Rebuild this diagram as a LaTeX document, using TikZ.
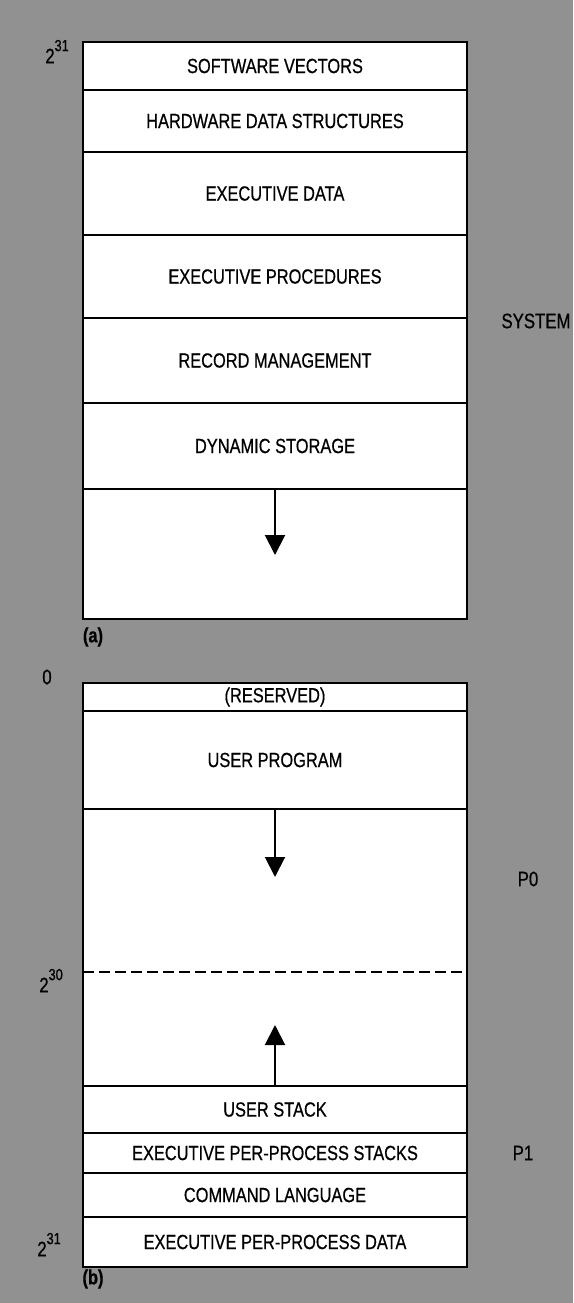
\documentclass[tikz,border=0pt]{standalone}
\usepackage{fontspec}
\setmainfont{Liberation Sans}[FakeStretch=0.8,FakeBold=0.6]
\usetikzlibrary{arrows.meta}
\definecolor{bg}{RGB}{145,145,145}
\begin{document}
\begin{tikzpicture}[x=1pt,y=-1pt,
  row/.style={draw=black,line width=1.9pt,fill=white,minimum width=384pt,
    inner sep=0pt,outer sep=0pt,font=\fontsize{20.5}{22}\selectfont},
  lbl/.style={font=\fontsize{21}{22}\selectfont,inner sep=0pt},
  sup/.style={font=\fontsize{16}{16}\selectfont,inner sep=0pt},
  frame/.style={draw=black,line width=2.8pt},
  arr/.style={line width=2pt,-{Triangle[width=20pt,length=20pt]}}]
\fill[bg] (0,0) rectangle (573,1303);
\useasboundingbox (0,0) rectangle (573,1303);
% ---------- (a) ----------
\node[row,minimum height=48pt] (sv) at (275,66) {SOFTWARE VECTORS};
\node[row,minimum height=62pt] (hw) at (275,121) {HARDWARE DATA STRUCTURES};
\node[row,minimum height=83pt] (ed) at (275,193.5) {EXECUTIVE DATA};
\node[row,minimum height=83pt] (ep) at (275,276.5) {EXECUTIVE PROCEDURES};
\node[row,minimum height=85pt] (rm) at (275,360.5) {RECORD MANAGEMENT};
\node[row,minimum height=86pt] (ds) at (275,446) {DYNAMIC STORAGE};
\node[row,minimum height=130pt] (dse) at (275,554) {};
\draw[frame] (sv.north west) rectangle (dse.south east);
\coordinate (atip) at (275,555);
\draw[arr] (dse.north) -- (atip);
\node[lbl] (a31) at (50,56) {2};
\node[sup,anchor=south west] (a31s) at ([xshift=-0.5pt,yshift=-3pt]a31.north east) {31};
\node[lbl,font=\fontsize{20.5}{22}\selectfont\bfseries] (la) at (93,637) {(a)};
\node[lbl] (sys) at (536,321) {SYSTEM};
% ---------- (b) ----------
\node[row,minimum height=28pt] (res) at (275,697) {(RESERVED)};
\node[row,minimum height=98pt] (up) at (275,760) {USER PROGRAM};
\node[row,minimum height=277pt] (gap) at (275,947.5) {};
\node[row,minimum height=47pt] (us) at (275,1109.5) {USER STACK};
\node[row,minimum height=40pt] (epps) at (275,1153) {EXECUTIVE PER-PROCESS STACKS};
\node[row,minimum height=44pt] (cl) at (275,1195) {COMMAND LANGUAGE};
\node[row,minimum height=50pt] (eppd) at (275,1242) {EXECUTIVE PER-PROCESS DATA};
\draw[frame] (res.north west) rectangle (eppd.south east);
\coordinate (dl) at (83,972);
\coordinate (dr) at (467,972);
\draw[line width=1.9pt,dash pattern=on 11pt off 5pt] (dl) -- (dr);
\coordinate (btip) at (275,877);
\coordinate (ctip) at (275,1025);
\draw[arr] (up.south) -- (btip);
\draw[arr] (us.north) -- (ctip);
\node[lbl] (zero) at (47,677) {0};
\node[lbl] (b30) at (44,985) {2};
\node[sup,anchor=south west] (b30s) at ([xshift=-0.5pt,yshift=-3pt]b30.north east) {30};
\node[lbl] (b31) at (42,1249) {2};
\node[sup,anchor=south west] (b31s) at ([xshift=-0.5pt,yshift=-3pt]b31.north east) {31};
\node[lbl,font=\fontsize{20.5}{22}\selectfont\bfseries] (lb) at (93,1279) {(b)};
\node[lbl] (p0) at (528,879) {P0};
\node[lbl] (p1) at (523,1153) {P1};
\end{tikzpicture}
\end{document}
